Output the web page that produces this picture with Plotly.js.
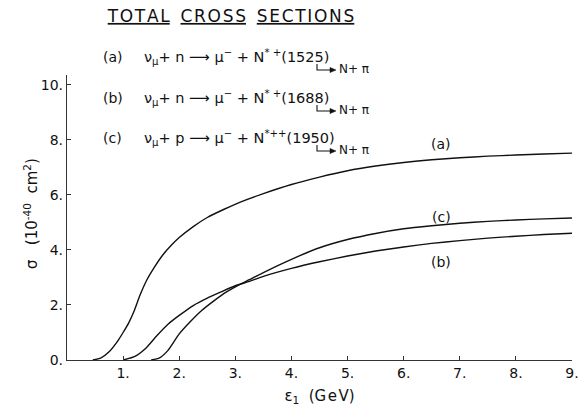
<!DOCTYPE html>
<html>
<head>
<meta charset="utf-8">
<script src="https://cdn.plot.ly/plotly-3.0.1.min.js"></script>
<style>
  html, body { margin: 0; padding: 0; background: #fff; }
  #chart { width: 583px; height: 410px; }
</style>
</head>
<body>
<div id="chart"></div>
<script>
// Neutrino energy (GeV) and total cross section (10^-40 cm^2) for each channel
const energyA = [0.46, 0.6, 0.75, 0.9, 1.0, 1.1, 1.2, 1.3, 1.42, 1.55, 1.7, 1.85, 2.0, 2.25, 2.5, 2.8, 3.1, 3.5, 4.0, 4.5, 5.0, 5.5, 6.0, 6.5, 7.0, 7.5, 8.0, 8.5, 9.0];
const sigmaA  = [0, 0.07, 0.3, 0.68, 1.0, 1.35, 1.8, 2.35, 2.9, 3.35, 3.8, 4.15, 4.45, 4.85, 5.18, 5.48, 5.75, 6.05, 6.38, 6.65, 6.88, 7.05, 7.18, 7.28, 7.35, 7.41, 7.45, 7.49, 7.52];

const energyB = [1.0, 1.2, 1.4, 1.6, 1.8, 2.0, 2.25, 2.5, 2.75, 3.0, 3.25, 3.5, 4.0, 4.5, 5.0, 5.5, 6.0, 6.5, 7.0, 7.5, 8.0, 8.5, 9.0];
const sigmaB  = [0, 0.12, 0.42, 0.88, 1.3, 1.62, 1.98, 2.25, 2.48, 2.7, 2.86, 3.04, 3.33, 3.57, 3.78, 3.96, 4.11, 4.24, 4.34, 4.43, 4.5, 4.56, 4.61];

const energyC = [1.5, 1.65, 1.8, 2.0, 2.2, 2.4, 2.6, 2.8, 3.0, 3.25, 3.5, 4.0, 4.5, 5.0, 5.5, 6.0, 6.5, 7.0, 7.5, 8.0, 8.5, 9.0];
const sigmaC  = [0, 0.08, 0.35, 0.95, 1.4, 1.8, 2.12, 2.42, 2.66, 2.92, 3.18, 3.66, 4.08, 4.38, 4.6, 4.77, 4.88, 4.97, 5.04, 5.09, 5.13, 5.16];

// Tick positions and their printed labels
const xTickVals = [1, 2, 3, 4, 5, 6, 7, 8, 9];
const xTickText = ['1.', '2.', '3.', '4.', '5.', '6.', '7.', '8.', '9.'];
const yTickVals = [0, 2, 4, 6, 8, 10];
const yTickText = ['0.', '2.', '4.', '6.', '8.', '10.'];

// Reaction channels listed above the curves
const channelTags = ['(a)', '(b)', '(c)'];
const channelEqs = [
  'ν<sub>μ</sub>+ n ⟶ μ<sup>−</sup> + N<sup>* +</sup>(1525)',
  'ν<sub>μ</sub>+ n ⟶ μ<sup>−</sup> + N<sup>* +</sup>(1688)',
  'ν<sub>μ</sub>+ p ⟶ μ<sup>−</sup> + N<sup>*++</sup>(1950)'
];
const decayText = 'N+ π';
const curveTags = ['(a)', '(b)', '(c)'];

const FONT = 'DejaVu Sans, sans-serif';
const INK = '#111';

// page geometry
const W = 583, H = 410;
const M = { l: 67, r: 11, t: 75, b: 50 };
const PW = W - M.l - M.r, PH = H - M.t - M.b;
const px = p => (p - M.l) / PW;          // page x pixel -> paper
const py = p => (H - M.b - p) / PH;      // page y pixel -> paper

function curve(x, y) {
  return {
    x: x, y: y, type: 'scatter', mode: 'lines',
    line: { color: INK, width: 1.4, shape: 'spline', smoothing: 0.6 },
    hoverinfo: 'skip', showlegend: false
  };
}

const rowY = [57, 98, 138];      // centre line of each reaction row
const annotations = [];
const shapes = [];

rowY.forEach((yy, i) => {
  annotations.push({
    xref: 'paper', yref: 'paper', x: px(101), y: py(yy),
    xanchor: 'left', yanchor: 'middle', showarrow: false,
    text: channelTags[i], font: { family: FONT, size: 14, color: INK }
  });
  annotations.push({
    xref: 'paper', yref: 'paper', x: px(142), y: py(yy),
    xanchor: 'left', yanchor: 'middle', showarrow: false,
    text: channelEqs[i], font: { family: FONT, size: 14.5, color: INK }
  });
  // decay hook: down from the mass value, then across to N + pi
  const hookTop = yy + 7, hookY = yy + 13;
  shapes.push({
    type: 'path', xref: 'paper', yref: 'paper',
    path: `M ${px(317)},${py(hookTop)} L ${px(317)},${py(hookY)} L ${px(331)},${py(hookY)}`,
    line: { color: INK, width: 1.1 }
  });
  shapes.push({
    type: 'path', xref: 'paper', yref: 'paper',
    path: `M ${px(330)},${py(hookY - 2.6)} L ${px(336)},${py(hookY)} L ${px(330)},${py(hookY + 2.6)} Z`,
    line: { color: INK, width: 0.5 }, fillcolor: INK
  });
  annotations.push({
    xref: 'paper', yref: 'paper', x: px(337), y: py(hookY - 1),
    xanchor: 'left', yanchor: 'middle', showarrow: false,
    text: decayText, font: { family: FONT, size: 12, color: INK }
  });
});

// curve identifiers
const curveTagPos = [[6.67, 7.85], [6.67, 3.58], [6.67, 5.2]];
curveTags.forEach((t, i) => {
  annotations.push({
    xref: 'x', yref: 'y', x: curveTagPos[i][0], y: curveTagPos[i][1],
    xanchor: 'center', yanchor: 'middle', showarrow: false,
    text: t, font: { family: FONT, size: 14, color: INK }
  });
});

// vertical axis label
annotations.push({
  xref: 'paper', yref: 'paper', x: px(31), y: py(214),
  xanchor: 'center', yanchor: 'middle', showarrow: false, textangle: -90,
  text: 'σ\u00A0\u00A0\u00A0(10<sup>-40</sup>\u00A0\u00A0cm<sup>2</sup>)', font: { family: FONT, size: 15, color: INK }
});

const layout = {
  width: W, height: H,
  margin: M,
  paper_bgcolor: '#fff', plot_bgcolor: '#fff',
  showlegend: false,
  font: { family: FONT, color: INK, size: 14 },
  title: {
    text: '<u>T\u200AO\u200AT\u200AA\u200AL</u>\u00A0\u00A0<u>C\u200AR\u200AO\u200AS\u200AS</u>\u00A0\u00A0<u>S\u200AE\u200AC\u200AT\u200AI\u200AO\u200AN\u200AS</u>',
    font: { family: FONT, size: 17, color: INK },
    xref: 'container', yref: 'container',
    x: 231 / W, xanchor: 'center',
    y: 1 - 16 / H, yanchor: 'middle'
  },
  xaxis: {
    range: [0, 9], showgrid: false, zeroline: false,
    showline: true, linecolor: '#333', linewidth: 1.2,
    ticks: 'inside', ticklen: 4, tickwidth: 1, tickcolor: '#333',
    tickvals: xTickVals, ticktext: xTickText,
    tickfont: { family: FONT, size: 14, color: INK },
    title: { text: 'ε<sub>1</sub>\u00A0\u00A0(G\u200Ae\u200AV)', font: { family: FONT, size: 15, color: INK }, standoff: 10 },
    fixedrange: true
  },
  yaxis: {
    range: [0, 10.36], showgrid: false, zeroline: false,
    showline: true, linecolor: '#333', linewidth: 1.2,
    ticks: 'inside', ticklen: 4, tickwidth: 1, tickcolor: '#333',
    tickvals: yTickVals, ticktext: yTickText,
    tickfont: { family: FONT, size: 14, color: INK },
    fixedrange: true
  },
  annotations: annotations,
  shapes: shapes
};

Plotly.newPlot('chart', [curve(energyA, sigmaA), curve(energyB, sigmaB), curve(energyC, sigmaC)], layout,
  { displayModeBar: false, staticPlot: true });
</script>
</body>
</html>
